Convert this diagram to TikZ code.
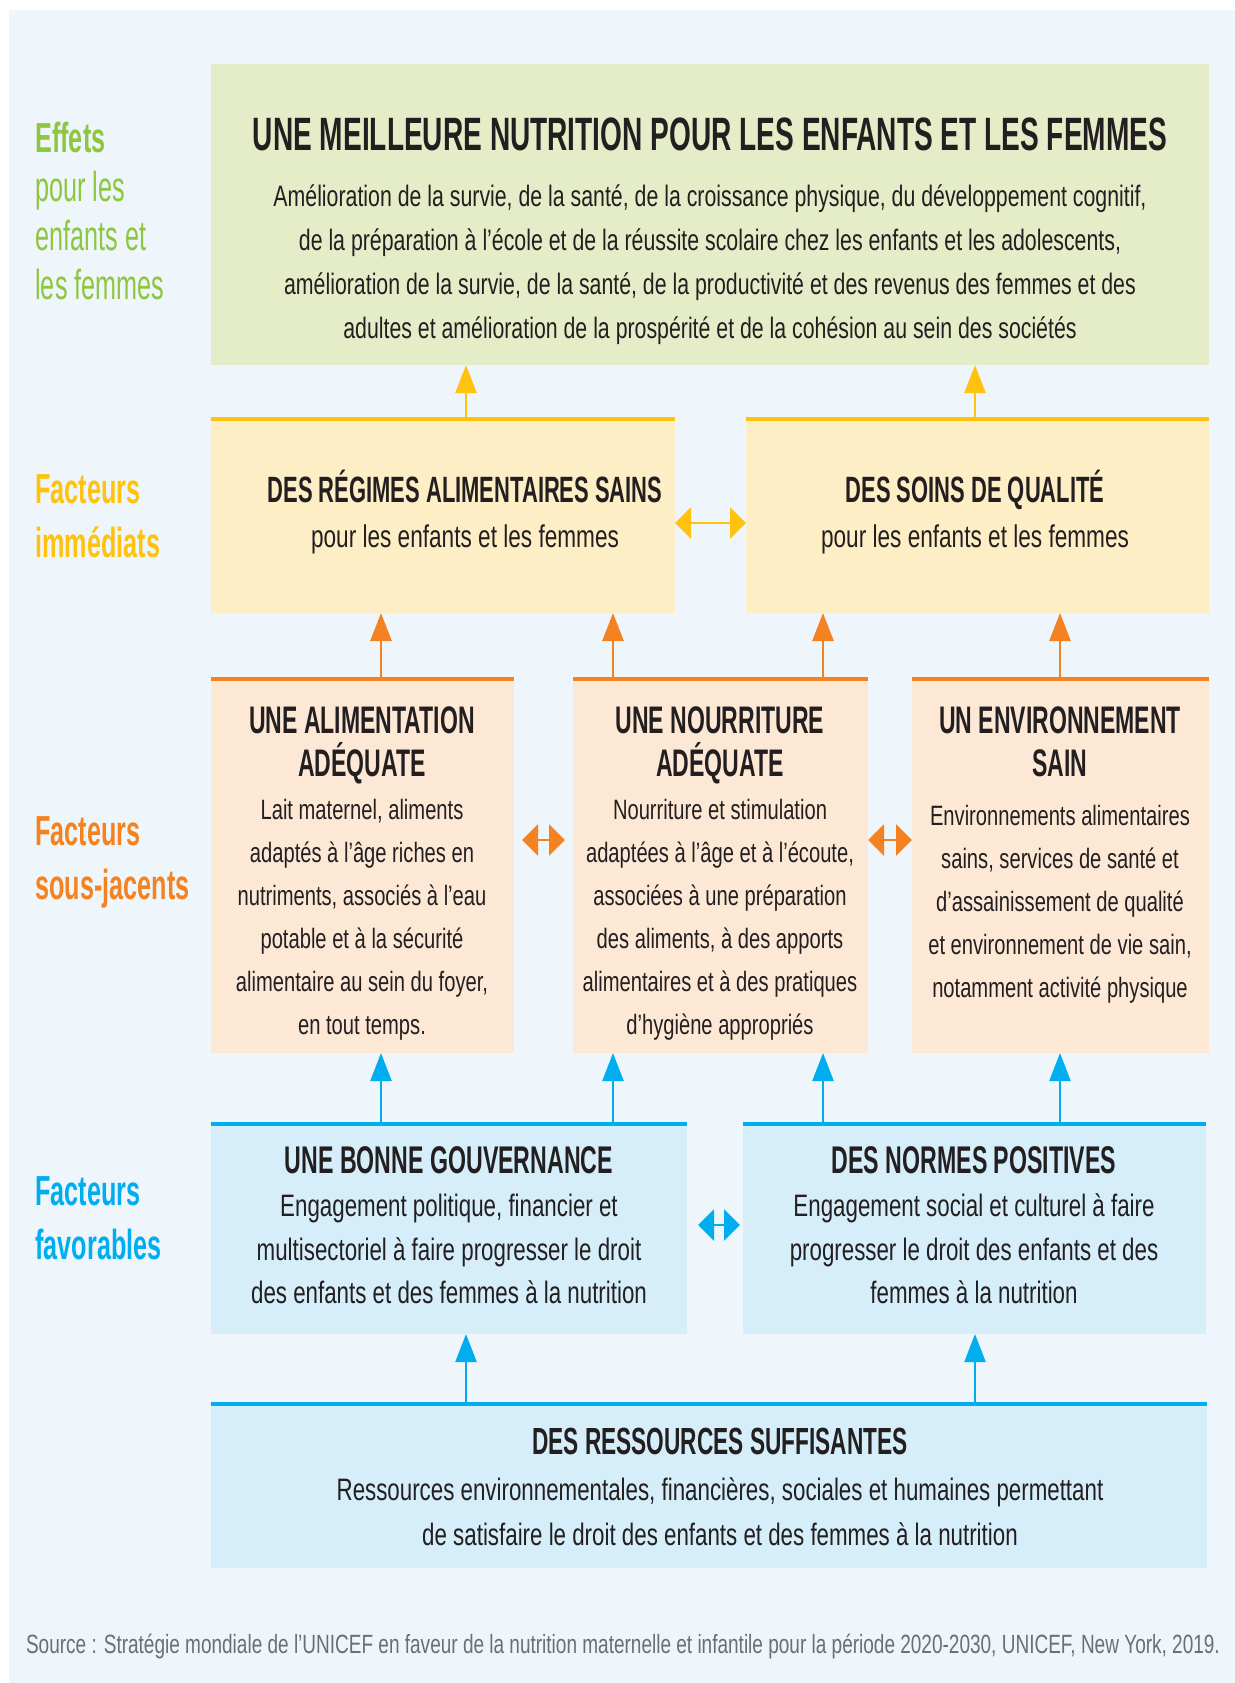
\documentclass[tikz,border=0pt]{standalone}
\usepackage{fontspec}
\setmainfont{Liberation Sans}[FakeStretch=0.72]
\newfontfamily\headfont{Liberation Sans}[FakeStretch=0.6]
\usetikzlibrary{arrows.meta}
\definecolor{bgblue}{HTML}{EEF6FC}
\definecolor{ink}{HTML}{231F20}
\definecolor{greenfill}{HTML}{E5EDC8}
\definecolor{greenlab}{HTML}{8DC63F}
\definecolor{yellowfill}{HTML}{FEEEC5}
\definecolor{yellowline}{HTML}{FFC20E}
\definecolor{orangefill}{HTML}{FDE8D5}
\definecolor{orangeline}{HTML}{F58220}
\definecolor{bluefill}{HTML}{D5EEFA}
\definecolor{blueline}{HTML}{00AEEF}
\definecolor{srcgrey}{HTML}{6D6E71}
\newcommand\hd[2][18]{{\headfont\bfseries\fontsize{#1}{21.5}\selectfont #2}}
\begin{document}
\begin{tikzpicture}[x=0.5pt,y=-0.5pt,
  box/.style={anchor=north west,inner sep=0pt,outer sep=0pt},
  txt/.style={align=center,text=ink,inner sep=0pt,font=\fontsize{14}{21.5}\selectfont},
  lab/.style={anchor=west,align=left,inner sep=0pt,font=\headfont\fontsize{21}{27}\selectfont},
  topline/.style={line width=2.2pt},
  uparr/.style={line width=1.2pt,-{Triangle[width=10.5pt,length=14pt]}},
  dblarr/.style={line width=1.2pt,{Triangle[width=15.5pt,length=8pt]}-{Triangle[width=15.5pt,length=8pt]}}
]
\useasboundingbox (0,0) rectangle (1235,1683);
\fill[bgblue] (9,10) rectangle (1235,1683);

% boxes
\node[box,fill=greenfill,minimum width=499pt,minimum height=150.5pt] (g) at (211,64) {};
\node[box,fill=yellowfill,minimum width=232pt,minimum height=97pt] (y1) at (211,419) {};
\node[box,fill=yellowfill,minimum width=231.5pt,minimum height=97pt] (y2) at (746,419) {};
\node[box,fill=orangefill,minimum width=151.5pt,minimum height=187pt] (o1) at (211,679) {};
\node[box,fill=orangefill,minimum width=147.5pt,minimum height=187pt] (o2) at (573,679) {};
\node[box,fill=orangefill,minimum width=148.5pt,minimum height=187pt] (o3) at (912,679) {};
\node[box,fill=bluefill,minimum width=238pt,minimum height=105pt] (b1) at (211,1124) {};
\node[box,fill=bluefill,minimum width=231.5pt,minimum height=105pt] (b2) at (743,1124) {};
\node[box,fill=bluefill,minimum width=498pt,minimum height=82pt] (r) at (211,1404) {};

\draw[topline,yellowline] (y1.north west) -- (y1.north east);
\draw[topline,yellowline] (y2.north west) -- (y2.north east);
\draw[topline,orangeline] (o1.north west) -- (o1.north east);
\draw[topline,orangeline] (o2.north west) -- (o2.north east);
\draw[topline,orangeline] (o3.north west) -- (o3.north east);
\draw[topline,blueline] (b1.north west) -- (b1.north east);
\draw[topline,blueline] (b2.north west) -- (b2.north east);
\draw[topline,blueline] (r.north west) -- (r.north east);

% texts
\node[txt,font=\fontsize{14.8}{22}\selectfont] (gt) at (710,231) {\hd[23.4]{UNE MEILLEURE NUTRITION POUR LES ENFANTS ET LES FEMMES}\\[6pt]
Amélioration de la survie, de la santé, de la croissance physique, du développement cognitif,\\
de la préparation à l’école et de la réussite scolaire chez les enfants et les adolescents,\\
amélioration de la survie, de la santé, de la productivité et des revenus des femmes et des\\
adultes et amélioration de la prospérité et de la cohésion au sein des sociétés};
\node[txt,font=\fontsize{15.7}{21.5}\selectfont] (y1t) at (465,512) {\hd[18.3]{DES RÉGIMES ALIMENTAIRES SAINS}\\[1pt]pour les enfants et les femmes};
\node[txt,font=\fontsize{15.7}{21.5}\selectfont] (y2t) at (975,512) {\hd[18.3]{DES SOINS DE QUALITÉ}\\[1pt]pour les enfants et les femmes};
\node[txt] (o1t) at (362,873) {\hd[19.2]{UNE ALIMENTATION}\\\hd[19.2]{ADÉQUATE}\\Lait maternel, aliments\\adaptés à l’âge riches en\\nutriments, associés à l’eau\\potable et à la sécurité\\alimentaire au sein du foyer,\\en tout temps.};
\node[txt] (o2t) at (720,873) {\hd[19.2]{UNE NOURRITURE}\\\hd[19.2]{ADÉQUATE}\\Nourriture et stimulation\\adaptées à l’âge et à l’écoute,\\associées à une préparation\\des aliments, à des apports\\alimentaires et à des pratiques\\d’hygiène appropriés};
\node[txt] (o3t) at (1060,855) {\hd[19.2]{UN ENVIRONNEMENT}\\\hd[19.2]{SAIN}\\[3pt]Environnements alimentaires\\sains, services de santé et\\d’assainissement de qualité\\et environnement de vie sain,\\notamment activité physique};
\node[txt,font=\fontsize{15.5}{21.75}\selectfont] (b1t) at (449,1225) {\hd[19.3]{UNE BONNE GOUVERNANCE}\\Engagement politique, financier et\\multisectoriel à faire progresser le droit\\des enfants et des femmes à la nutrition};
\node[txt,font=\fontsize{15.5}{21.75}\selectfont] (b2t) at (974,1225) {\hd[19.3]{DES NORMES POSITIVES}\\Engagement social et culturel à faire\\progresser le droit des enfants et des\\femmes à la nutrition};
\node[txt,font=\fontsize{15.5}{22.5}\selectfont] (rt) at (720,1487) {\hd[18.9]{DES RESSOURCES SUFFISANTES}\\[0.5pt]Ressources environnementales, financières, sociales et humaines permettant\\de satisfaire le droit des enfants et des femmes à la nutrition};

% row labels
\node[lab,text=greenlab,font=\headfont\fontsize{21}{24.5}\selectfont] (l1) at (35,211) {\textbf{Effets}\\pour les\\enfants et\\les femmes};
\node[lab,text=yellowline] (l2) at (35,516) {\textbf{Facteurs}\\\textbf{immédiats}};
\node[lab,text=orangeline] (l3) at (35,862) {\textbf{Facteurs}\\\textbf{sous-jacents}};
\node[lab,text=blueline] (l4) at (35,1218) {\textbf{Facteurs}\\\textbf{favorables}};

\node[text=srcgrey,inner sep=0pt,font=\fontsize{13.2}{15}\selectfont] (src) at (623,1646) {Source : Stratégie mondiale de l’UNICEF en faveur de la nutrition maternelle et infantile pour la période 2020-2030, UNICEF, New York, 2019.};

% arrows
\coordinate (c1) at (381,0);
\coordinate (c2) at (613,0);
\coordinate (c3) at (823,0);
\coordinate (c4) at (1060,0);
\coordinate (d1) at (466,0);
\coordinate (d2) at (975,0);

\draw[uparr,yellowline,line width=1.1pt] (y1.north -| d1) -- (g.south -| d1);
\draw[uparr,yellowline,line width=1.1pt] (y2.north -| d2) -- (g.south -| d2);
\draw[uparr,orangeline,line width=1.4pt] (o1.north -| c1) -- (y1.south -| c1);
\draw[uparr,orangeline,line width=1.4pt] (o2.north -| c2) -- (y1.south -| c2);
\draw[uparr,orangeline,line width=1.4pt] (o2.north -| c3) -- (y2.south -| c3);
\draw[uparr,orangeline,line width=1.4pt] (o3.north -| c4) -- (y2.south -| c4);
\draw[uparr,blueline] (b1.north -| c1) -- (o1.south -| c1);
\draw[uparr,blueline] (b1.north -| c2) -- (o2.south -| c2);
\draw[uparr,blueline] (b2.north -| c3) -- (o2.south -| c3);
\draw[uparr,blueline] (b2.north -| c4) -- (o3.south -| c4);
\draw[uparr,blueline] (r.north -| d1) -- (b1.south -| d1);
\draw[uparr,blueline] (r.north -| d2) -- (b2.south -| d2);

\draw[dblarr,yellowline] ([yshift=-3.5pt]y1.east) -- ([yshift=-3.5pt]y2.west);
\draw[dblarr,orangeline,shorten <=4pt,shorten >=4pt] ([yshift=13pt]o1.east) -- ([yshift=13pt]o2.west);
\draw[dblarr,orangeline] ([yshift=13pt]o2.east) -- ([yshift=13pt]o3.west);
\draw[dblarr,blueline,shorten <=5.5pt,shorten >=1.5pt] ([yshift=2pt]b1.east) -- ([yshift=2pt]b2.west);
\end{tikzpicture}
\end{document}
